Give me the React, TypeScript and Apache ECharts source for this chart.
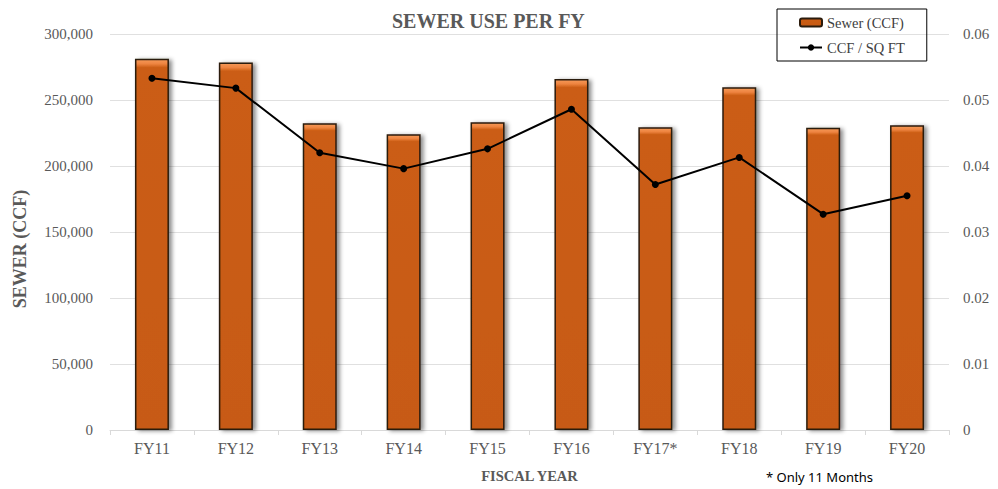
import React, { useEffect, useRef } from "react";
import * as echarts from "echarts";

const categories = ["FY11", "FY12", "FY13", "FY14", "FY15", "FY16", "FY17*", "FY18", "FY19", "FY20"];
const sewerCCF = [281300, 278500, 232300, 224000, 233100, 265900, 229300, 259600, 229000, 230800];
const ccfPerSqFt = [0.0533, 0.0518, 0.042, 0.0396, 0.0426, 0.0486, 0.0372, 0.0413, 0.0327, 0.0355];

const SERIF = "'Liberation Serif', 'Times New Roman', serif";
const GRAY = "#595959";

export default function App() {
  const ref = useRef<HTMLDivElement>(null);
  useEffect(() => {
    if (!ref.current) return;
    const chart = echarts.init(ref.current, null, { renderer: "svg" });
    chart.setOption({
      animation: false,
      backgroundColor: "#ffffff",
      title: {
        text: "SEWER USE PER FY",
        left: 387,
        top: 6,
        textStyle: { fontFamily: SERIF, fontSize: 20, fontWeight: "bold", color: GRAY },
      },
      legend: {
        orient: "vertical",
        left: 777,
        top: 9,
        padding: [6, 22, 6, 22],
        itemWidth: 22,
        itemHeight: 8,
        itemGap: 10,
        itemTextGap: 2,
        borderColor: "#000",
        borderWidth: 1,
        textStyle: { fontFamily: SERIF, fontSize: 14.5, color: "#404040" },
        data: ["Sewer (CCF)", "CCF / SQ FT"],
      },
      grid: { left: 110, right: 49, top: 34, bottom: 59 },
      xAxis: {
        type: "category",
        data: categories,
        name: "FISCAL YEAR",
        nameLocation: "middle",
        nameGap: 38,
        nameTextStyle: { fontFamily: SERIF, fontSize: 14.5, fontWeight: "bold", color: GRAY },
        axisLine: { lineStyle: { color: "#d9d9d9" } },
        axisTick: { show: true, length: 5, lineStyle: { color: "#d9d9d9" } },
        axisLabel: { fontFamily: SERIF, fontSize: 16, color: GRAY, margin: 10 },
      },
      yAxis: [
        {
          type: "value",
          min: 0,
          max: 300000,
          interval: 50000,
          axisLabel: {
            fontFamily: SERIF,
            fontSize: 15,
            color: GRAY,
            margin: 17,
            formatter: (v: number) => v.toLocaleString("en-US"),
          },
          splitLine: { lineStyle: { color: "#e0e0e0" } },
          axisLine: { show: false },
          axisTick: { show: false },
        },
        {
          type: "value",
          min: 0,
          max: 0.06,
          interval: 0.01,
          position: "right",
          axisLabel: {
            fontFamily: SERIF,
            fontSize: 15,
            color: GRAY,
            margin: 14,
            formatter: (v: number) => (v === 0 ? "0" : v.toFixed(2)),
          },
          splitLine: { show: false },
          axisLine: { show: false },
          axisTick: { show: false },
        },
      ],
      series: [
        {
          name: "Sewer (CCF)",
          type: "bar",
          yAxisIndex: 0,
          data: sewerCCF,
          barWidth: 34,
          itemStyle: {
            color: new echarts.graphic.LinearGradient(0, 0, 0, 1, [
              { offset: 0, color: "#F59A5A" },
              { offset: 0.012, color: "#EE8440" },
              { offset: 0.022, color: "#CB5D14" },
              { offset: 1, color: "#C75A12" },
            ]),
            borderColor: "#2b1b0c",
            borderWidth: 1.5,
            shadowColor: "rgba(0,0,0,0.45)",
            shadowBlur: 4,
            shadowOffsetX: 3,
            shadowOffsetY: 1,
          },
        },
        {
          name: "CCF / SQ FT",
          type: "line",
          yAxisIndex: 1,
          data: ccfPerSqFt,
          symbol: "circle",
          symbolSize: 7,
          lineStyle: { color: "#000", width: 2 },
          itemStyle: { color: "#000" },
        },
      ],
      graphic: [
        {
          type: "text",
          x: 20,
          y: 249,
          rotation: Math.PI / 2,
          style: {
            text: "SEWER (CCF)",
            fontFamily: SERIF,
            fontSize: 18,
            fontWeight: "bold",
            fill: GRAY,
            align: "center",
            verticalAlign: "middle",
          },
        },
        {
          type: "text",
          left: 766,
          top: 470,
          style: {
            text: "* Only 11 Months",
            fontFamily: "'Noto Sans', sans-serif",
            fontSize: 13,
            fill: "#000",
          },
        },
      ],
    });
    return () => chart.dispose();
  }, []);
  return (
    <div
      ref={ref}
      style={{ position: "fixed", left: 0, top: 0, width: 998, height: 489, background: "#fff" }}
    />
  );
}
